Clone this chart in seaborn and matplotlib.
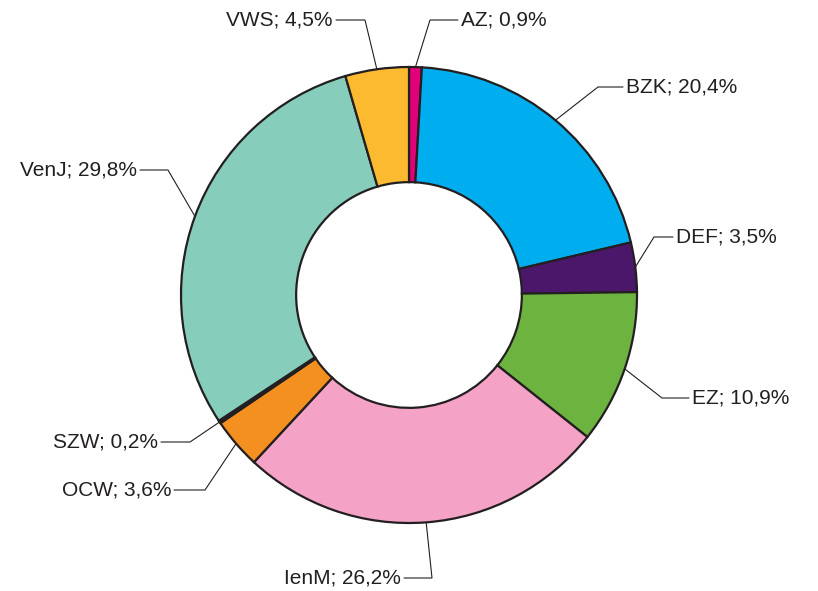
import numpy as np
import matplotlib
matplotlib.use("Agg")
import matplotlib.pyplot as plt
import seaborn as sns

sns.set_style("white")
plt.rcParams['font.family'] = ['Liberation Sans', 'DejaVu Sans']

departments = ['AZ', 'BZK', 'DEF', 'EZ', 'IenM', 'OCW', 'SZW', 'VenJ', 'VWS']
shares = [0.9, 20.4, 3.5, 10.9, 26.2, 3.6, 0.2, 29.8, 4.5]
colors = ['#E2007A', '#00ADEE', '#4A176B', '#6CB33F', '#F4A2C6',
          '#F39020', '#231F20', '#86CEBB', '#FCBA30']

W, H = 818, 591
cx, cy, R = 409, 295, 228   # pixel layout of the donut


def to_data(px, py):
    return (px - cx) / R, (cy - py) / R


# elbow point and text anchor (pixels from top-left), text alignment
label_layout = {
    'AZ':   ((430, 20), (461, 20), 'left'),
    'BZK':  ((598, 87), (626, 87), 'left'),
    'DEF':  ((654, 237), (676, 237), 'left'),
    'EZ':   ((662, 398), (692, 398), 'left'),
    'IenM': ((432, 578), (401, 578), 'right'),
    'OCW':  ((205, 490), (171, 490), 'right'),
    'SZW':  ((190, 442), (158, 442), 'right'),
    'VenJ': ((168, 170), (137, 170), 'right'),
    'VWS':  ((365, 20), (333, 20), 'right'),
}

fig = plt.figure(figsize=(W / 100, H / 100), dpi=100)
ax = fig.add_axes([0, 0, 1, 1])

wedges, _ = ax.pie(shares, colors=colors, startangle=90, counterclock=False,
                   radius=1, wedgeprops=dict(width=0.505, edgecolor='#231F20',
                                             linewidth=1.6))

for w, name, val in zip(wedges, departments, shares):
    mid = np.deg2rad((w.theta1 + w.theta2) / 2)
    sx, sy = np.cos(mid), np.sin(mid)
    (ex, ey), (tx, ty), ha = label_layout[name]
    ex, ey = to_data(ex, ey)
    tx, ty = to_data(tx, ty)
    end_x = tx - 3 / R if ha == 'left' else tx + 3 / R
    ax.plot([sx, ex, end_x], [sy, ey, ty], color='#231F20', lw=0.8,
            solid_joinstyle='miter')
    txt = f"{name}; {val:.1f}%".replace('.', ',')
    ax.text(tx, ty, txt, ha=ha, va='center', fontsize=15, color='#231F20')

ax.set_xlim(-cx / R, (W - cx) / R)
ax.set_ylim((cy - H) / R, cy / R)
ax.set_aspect('equal')
ax.axis('off')

fig.savefig('out.png', dpi=100)
